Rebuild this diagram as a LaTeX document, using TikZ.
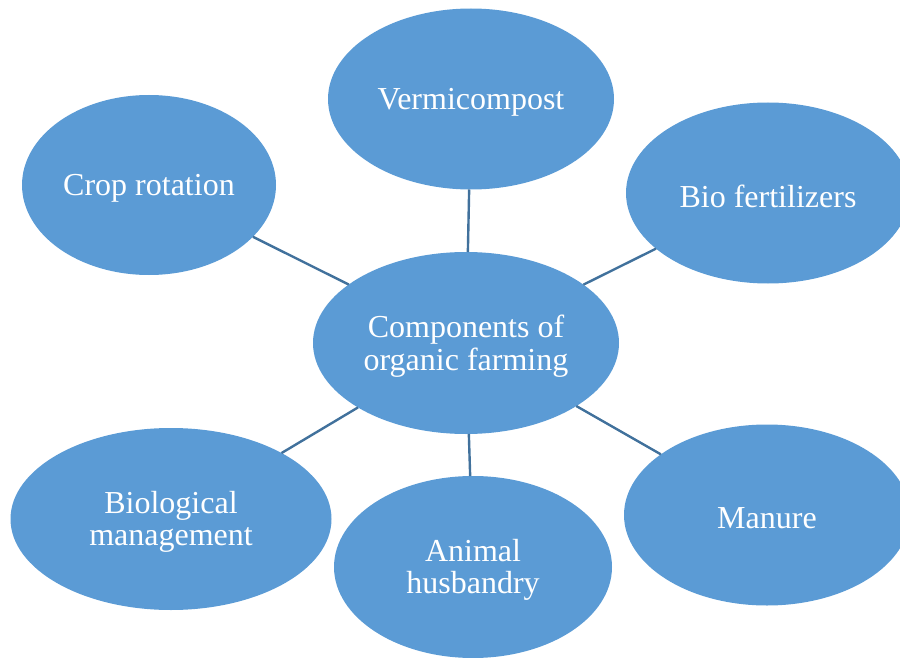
\documentclass[tikz,border=0pt]{standalone}
\usepackage{fontspec}
\setmainfont{Liberation Serif}
\usetikzlibrary{shapes.geometric}
\definecolor{fillblue}{HTML}{5B9BD5}
\definecolor{lineblue}{HTML}{41719C}
\tikzset{
  blob/.style={ellipse, fill=fillblue, draw=none, inner sep=0pt, outer sep=0pt},
  blobtext/.style={text=white, align=center, font=\fontsize{32}{32.5}\selectfont, yshift=-3pt},
  link/.style={draw=lineblue, line width=2.4pt}
}
\begin{document}
\begin{tikzpicture}[x=1pt,y=-1pt]
\useasboundingbox (0,0) rectangle (900,658);
\clip (0,0) rectangle (900,658);
\node[blob, minimum width=306pt, minimum height=182pt, label={[blobtext]center:Components of\\organic farming}] (c) at (466,343) {};
\node[blob, minimum width=286pt, minimum height=181pt, label={[blobtext]center:Vermicompost}] (v) at (471,99) {};
\node[blob, minimum width=254pt, minimum height=180pt, label={[blobtext]center:Crop rotation}] (cr) at (149,185) {};
\node[blob, minimum width=284pt, minimum height=181pt, label={[blobtext]center:Bio fertilizers}] (bf) at (768,193) {};
\node[blob, minimum width=321pt, minimum height=182pt, label={[blobtext]center:Biological\\management}] (bm) at (171,519) {};
\node[blob, minimum width=278pt, minimum height=182pt, label={[blobtext]center:Animal\\husbandry}] (ah) at (473,567) {};
\node[blob, minimum width=286pt, minimum height=181pt, label={[blobtext]center:Manure}] (m) at (767,515) {};
\draw[link] (c) -- (v);
\draw[link] (c) -- (cr);
\draw[link] (c) -- (bf);
\draw[link] (c) -- (bm);
\draw[link] (c) -- (ah);
\draw[link] (c) -- (m);
\end{tikzpicture}
\end{document}
